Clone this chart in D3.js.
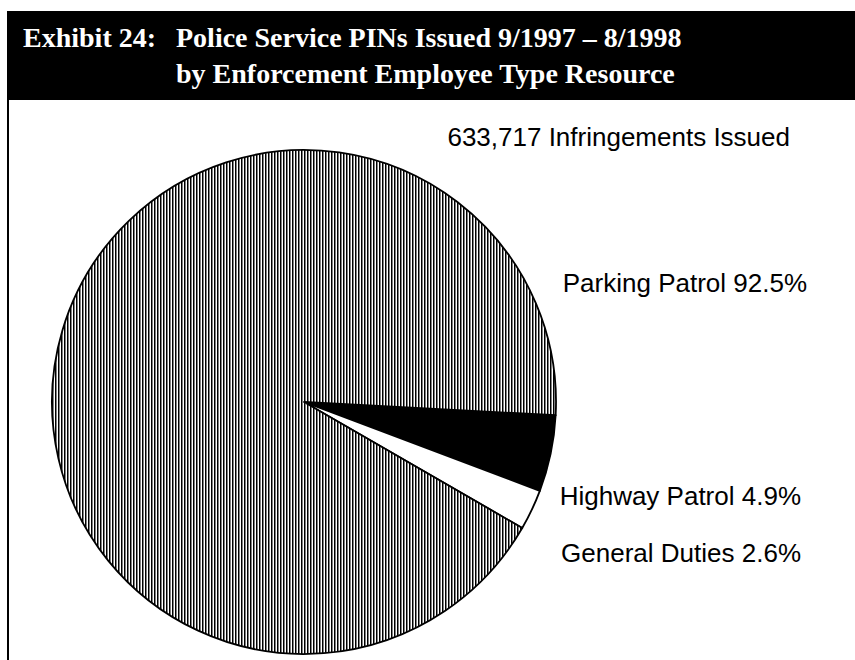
<!DOCTYPE html>
<html>
<head>
<meta charset="utf-8">
<script src="https://cdn.jsdelivr.net/npm/d3@7"></script>
<style>
  body { margin: 0; background: #fff; }
  svg { display: block; }
</style>
</head>
<body>
<svg id="chart"></svg>
<script>
// data
var categories = ["Highway Patrol", "General Duties", "Parking Patrol"];
var shares = [4.9, 2.6, 92.5];
var totalIssued = 633717;
var titleLead = "Exhibit 24:";
var titleLines = ["Police Service PINs Issued 9/1997 \u2013 8/1998", "by Enforcement Employee Type Resource"];

var svgWidth = 855;
var svgHeight = 660;
var cx = 304, cy = 402, radius = 252;

var svg = d3.select("#chart")
    .attr("width", svgWidth)
    .attr("height", svgHeight);

// vertical hatch for the big slice
var defs = svg.append("defs");
var pat = defs.append("pattern")
    .attr("id", "vhatch")
    .attr("patternUnits", "userSpaceOnUse")
    .attr("width", 3)
    .attr("height", 10);
pat.append("rect").attr("width", 3).attr("height", 10).attr("fill", "#fff");
pat.append("rect").attr("x", 0).attr("width", 1).attr("height", 10).attr("fill", "#000");
pat.append("rect").attr("x", 1).attr("width", 1).attr("height", 10).attr("fill", "#808080");

// header bar
svg.append("rect")
    .attr("x", 7).attr("y", 11)
    .attr("width", svgWidth - 7).attr("height", 89)
    .attr("fill", "#000");

// left frame line
svg.append("rect")
    .attr("x", 7).attr("y", 100)
    .attr("width", 2).attr("height", svgHeight - 100)
    .attr("fill", "#000");

var title = svg.append("g")
    .attr("font-family", "'Liberation Serif', 'Times New Roman', serif")
    .attr("font-weight", "bold")
    .attr("font-size", 28)
    .attr("fill", "#fff");

title.append("text").attr("x", 23).attr("y", 47).text(titleLead);
title.selectAll("text.line")
    .data(titleLines)
    .enter()
    .append("text")
    .attr("class", "line")
    .attr("x", 176)
    .attr("y", function(d, i) { return 47 + i * 36; })
    .text(function(d) { return d; });

// pie
var slices = categories.map(function(c, i) { return { name: c, value: shares[i] }; });
var fills = ["#000", "#fff", "url(#vhatch)"];

var startA = 93 * Math.PI / 180;
var pie = d3.pie()
    .sort(null)
    .value(function(d) { return d.value; })
    .startAngle(startA)
    .endAngle(startA + 2 * Math.PI);

var arc = d3.arc().innerRadius(0).outerRadius(radius);

svg.append("g")
    .attr("transform", "translate(" + cx + "," + cy + ")")
    .selectAll("path")
    .data(pie(slices))
    .enter()
    .append("path")
    .attr("d", arc)
    .attr("fill", function(d, i) { return fills[i]; })
    .attr("stroke", "#000")
    .attr("stroke-width", 1.8)
    .attr("stroke-linejoin", "round");

// labels
var labels = svg.append("g")
    .attr("font-family", "'Liberation Sans', Arial, sans-serif")
    .attr("font-size", 26)
    .attr("fill", "#000")
    .attr("text-anchor", "end");

labels.append("text")
    .attr("x", 790).attr("y", 146)
    .text(d3.format(",")(totalIssued) + " Infringements Issued");

var labelPos = { "Parking Patrol": [807, 292], "Highway Patrol": [801, 505], "General Duties": [801, 562] };
labels.selectAll("text.slice")
    .data(slices)
    .enter()
    .append("text")
    .attr("class", "slice")
    .attr("x", function(d) { return labelPos[d.name][0]; })
    .attr("y", function(d) { return labelPos[d.name][1]; })
    .text(function(d) { return d.name + " " + d.value + "%"; });
</script>
</body>
</html>
